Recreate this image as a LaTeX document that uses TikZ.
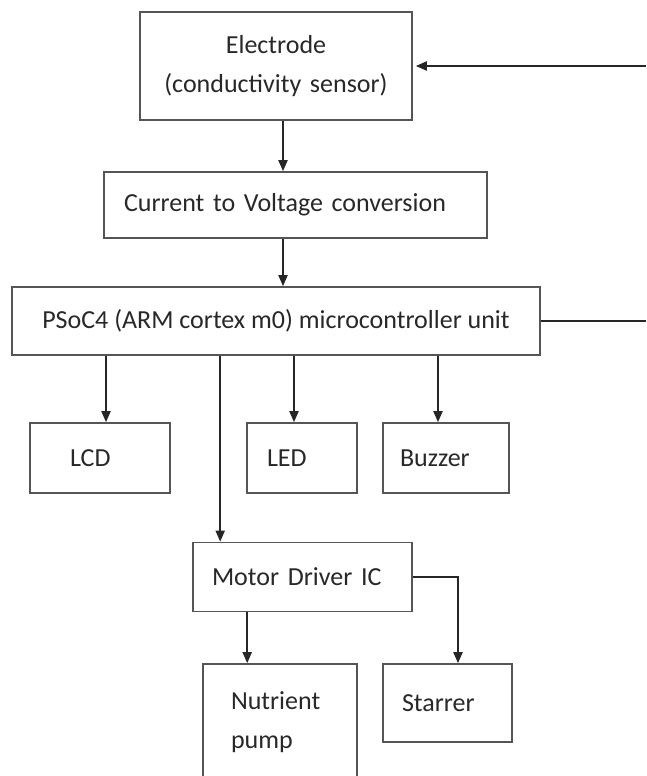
\documentclass[tikz,border=0pt]{standalone}
\usepackage{fontspec}
\setmainfont{Carlito}
\definecolor{edge}{RGB}{85,85,85}
\definecolor{ink}{RGB}{40,40,40}
\usetikzlibrary{arrows.meta}
\tikzset{
  box/.style={draw=edge, line width=1.6pt, fill=white, inner xsep=20pt, inner ysep=0pt,
              align=left, text=ink},
  flow/.style={-{Triangle[length=11pt,width=9pt]}, line width=1.8pt, black!85},
  wire/.style={line width=1.8pt, black!85},
}

\begin{document}
\begin{tikzpicture}[x=1pt, y=-1pt, font=\fontsize{26}{39}\selectfont]
  \useasboundingbox (0,0) rectangle (646,776);
  \node[box, align=center, text width=232pt, minimum height=108pt] (elec) at (276,66) {Electrode\\(conductivity sensor)};
  \node[box, text width=343pt, minimum height=66pt] (cvc) at (295.5,205) {Current to Voltage conversion};
  \node[box, align=center, inner xsep=0pt, minimum width=528pt, minimum height=68pt] (psoc) at (276,321) {PSoC4 (ARM cortex m0) microcontroller unit};
  \node[box, inner xsep=40pt, text width=60pt, minimum height=70pt] (lcd) at (100,458) {LCD};
  \node[box, text width=70pt, minimum height=70pt] (led) at (302,458) {LED};
  \node[box, inner xsep=17pt, text width=92pt, minimum height=70pt] (buzzer) at (446,458) {Buzzer};
  \node[box, inner xsep=19pt, text width=181pt, minimum height=69pt] (mdrv) at (302.5,577) {Motor Driver IC};
  \node[box, inner xsep=28pt, text width=98pt, minimum height=116pt] (pump) at (280,722) {Nutrient\\pump};
  \node[box, inner xsep=19pt, text width=91pt, minimum height=78pt] (starrer) at (447.5,703) {Starrer};
  \coordinate (feedin) at (646,66);
  \coordinate (feedout) at (646,321);
  \draw[flow, shorten >=3pt] (feedin) -- (elec.east);
  \draw[wire] (psoc.east) -- (feedout);
  \draw[flow] ([xshift=7pt]elec.south) -- ([xshift=7pt]elec.south |- cvc.north);
  \draw[flow] ([xshift=-12.5pt]cvc.south) -- ([xshift=-12.5pt]cvc.south |- psoc.north);
  \draw[flow] ([xshift=6pt]lcd.north |- psoc.south) -- ([xshift=6pt]lcd.north);
  \draw[flow] ([xshift=-8pt]led.north |- psoc.south) -- ([xshift=-8pt]led.north);
  \draw[flow] ([xshift=-8pt]buzzer.north |- psoc.south) -- ([xshift=-8pt]buzzer.north);
  \draw[flow] ([xshift=28pt]mdrv.north west |- psoc.south) -- ([xshift=28pt]mdrv.north west);
  \draw[flow] ([xshift=45pt]pump.north west |- mdrv.south) -- ([xshift=45pt]pump.north west);
  \draw[flow] (mdrv.east) -| ([xshift=10.5pt]starrer.north);
\end{tikzpicture}
\end{document}
